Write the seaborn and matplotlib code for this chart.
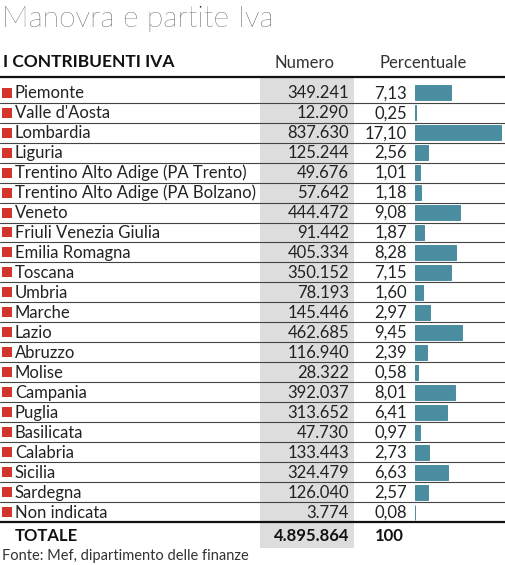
## table chart: contribuenti IVA per regione, with small bars for the percentage
import matplotlib
matplotlib.use('Agg')
import matplotlib.pyplot as plt
import seaborn as sns
import pandas as pd

sns.set_theme(style='white')
plt.rcParams['font.family'] = ['Lato', 'DejaVu Sans']

title = 'Manovra e partite Iva'
header = 'I CONTRIBUENTI IVA'
col_labels = ['Numero', 'Percentuale']
source = 'Fonte: Mef, dipartimento delle finanze'

regions = ['Piemonte', "Valle d'Aosta", 'Lombardia', 'Liguria',
           'Trentino Alto Adige (PA Trento)', 'Trentino Alto Adige (PA Bolzano)',
           'Veneto', 'Friuli Venezia Giulia', 'Emilia Romagna', 'Toscana',
           'Umbria', 'Marche', 'Lazio', 'Abruzzo', 'Molise', 'Campania',
           'Puglia', 'Basilicata', 'Calabria', 'Sicilia', 'Sardegna',
           'Non indicata']
numbers = [349241, 12290, 837630, 125244, 49676, 57642, 444472, 91442,
           405334, 350152, 78193, 145446, 462685, 116940, 28322, 392037,
           313652, 47730, 133443, 324479, 126040, 3774]
percents = [7.13, 0.25, 17.10, 2.56, 1.01, 1.18, 9.08, 1.87, 8.28, 7.15,
            1.60, 2.97, 9.45, 2.39, 0.58, 8.01, 6.41, 0.97, 2.73, 6.63,
            2.57, 0.08]
total_label = 'TOTALE'
total_number = 4895864
total_percent = 100

df = pd.DataFrame({'Regione': regions, 'Numero': numbers, 'Percentuale': percents})

RED = '#d2352c'
TEAL = '#4b8da0'
BAND = '#dddddd'

W, H = 506, 565
fig = plt.figure(figsize=(W / 100, H / 100), dpi=100)

# background axes in pixel units for text and rules
ax = fig.add_axes([0, 0, 1, 1])
ax.set_xlim(0, W)
ax.set_ylim(H, 0)
ax.axis('off')

row0 = 92.7
step = 19.97
n = len(df)


def row_y(i):
    return row0 + step * i


def fmt_int(v):
    return f'{v:,}'.replace(',', '.')


def fmt_pct(v):
    return f'{v:.2f}'.replace('.', ',')


# grey band behind the Numero column
ax.axvspan(260, 354, ymin=1 - 548 / H, ymax=1 - 77 / H, color=BAND, lw=0, zorder=0)

ax.text(2, 27, title, fontsize=21.5, fontweight='light', color='#111111', va='baseline')
ax.text(3, 62, header, fontsize=12.5, fontweight='bold', color='#111111', va='center')
ax.text(305, 63, col_labels[0], fontsize=12, color='#333333', va='center', ha='center')
ax.text(423, 63, col_labels[1], fontsize=12, color='#333333', va='center', ha='center')
ax.axhline(77, color='#111111', lw=1.6)

for i, row in df.iterrows():
    y = row_y(i)
    ax.add_patch(plt.Rectangle((2, y - 5), 10, 10, color=RED, lw=0))
    ax.text(15, y + 0.5, row['Regione'], fontsize=12, color='#222222', va='center')
    ax.text(349, y + 0.5, fmt_int(row['Numero']), fontsize=12, color='#222222',
            va='center', ha='right')
    ax.text(407, y + 0.5, fmt_pct(row['Percentuale']), fontsize=12, color='#222222',
            va='center', ha='right')
    if i < n - 1:
        ax.axhline(y + step / 2, color='#444444', lw=0.8)
ax.axhline(row_y(n - 1) + step / 2, color='#111111', lw=1.6)

ty = row_y(n - 1) + 24
ax.text(15, ty, total_label, fontsize=12, fontweight='bold', color='#111111', va='center')
ax.text(349, ty, fmt_int(total_number), fontsize=12, fontweight='bold', color='#111111',
        va='center', ha='right')
ax.text(404, ty, str(total_percent), fontsize=12, fontweight='bold', color='#111111',
        va='center', ha='right')

ax.text(2, 556, source, fontsize=10.5, color='#333333', va='center')

# bar axes, aligned with the rows
top = row_y(0) - step / 2
bottom = row_y(n - 1) + step / 2
x0 = 415
ax_bar = fig.add_axes([x0 / W, 1 - bottom / H, (W - x0) / W, (bottom - top) / H])
sns.barplot(data=df, x='Percentuale', y='Regione', orient='h', color=TEAL,
            width=0.75, saturation=1, edgecolor=TEAL, linewidth=0.7, ax=ax_bar)
ax_bar.set_xlim(0, (W - x0) / 5.01)
ax_bar.set_ylim(n - 0.5, -0.5)
ax_bar.axis('off')
ax_bar.patch.set_alpha(0)

fig.savefig('out.png', dpi=100)
